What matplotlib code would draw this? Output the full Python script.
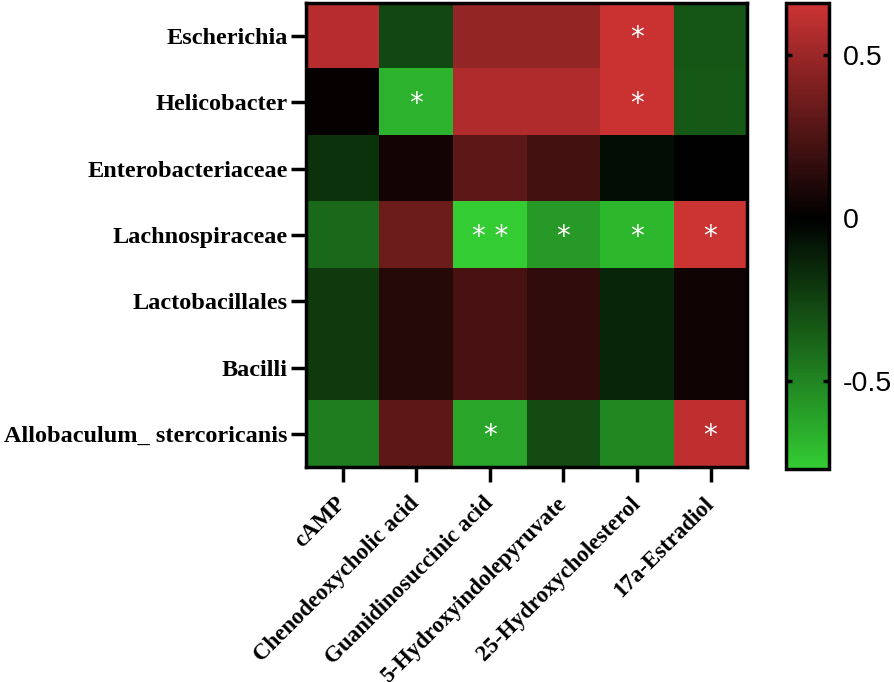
import numpy as np
import matplotlib
matplotlib.use("Agg")
import matplotlib.pyplot as plt
from matplotlib.colors import LinearSegmentedColormap, Normalize

taxa = ['Escherichia', 'Helicobacter', 'Enterobacteriaceae', 'Lachnospiraceae',
        'Lactobacillales', 'Bacilli', 'Allobaculum_ stercoricanis']
metabolites = ['cAMP', 'Chenodeoxycholic acid', 'Guanidinosuccinic acid',
               '5-Hydroxyindolepyruvate', '25-Hydroxycholesterol', '17a-Estradiol']

# correlation coefficients (rows = taxa)
corr = np.array([
    [0.59, -0.27, 0.48, 0.48, 0.65, -0.32],
    [0.02, -0.67, 0.57, 0.57, 0.65, -0.33],
    [-0.19, 0.06, 0.30, 0.22, -0.05, -0.01],
    [-0.40, 0.35, -0.77, -0.58, -0.69, 0.66],
    [-0.22, 0.12, 0.23, 0.16, -0.14, 0.05],
    [-0.22, 0.12, 0.23, 0.16, -0.14, 0.05],
    [-0.47, 0.30, -0.62, -0.28, -0.51, 0.62],
])

stars = [
    ['', '', '', '', '*', ''],
    ['', '*', '', '', '*', ''],
    ['', '', '', '', '', ''],
    ['', '', '* *', '*', '*', '*'],
    ['', '', '', '', '', ''],
    ['', '', '', '', '', ''],
    ['', '', '*', '', '', '*'],
]

vmin, vmax = -0.77, 0.66
mid = -vmin / (vmax - vmin)
cmap = LinearSegmentedColormap.from_list(
    'gkr', [(0.0, '#33cc33'), (mid, '#000000'), (1.0, '#cc3333')])
norm = Normalize(vmin=vmin, vmax=vmax)

fig = plt.figure(figsize=(8.94, 6.82), dpi=100)
ax = fig.add_axes([0.342, 0.315, 0.494, 0.681])
cax = fig.add_axes([0.879, 0.312, 0.048, 0.684])

im = ax.imshow(corr, cmap=cmap, norm=norm, aspect='auto', interpolation='nearest')

for i in range(len(taxa)):
    for j in range(len(metabolites)):
        if stars[i][j]:
            ax.text(j, i + 0.03, stars[i][j], ha='center', va='center',
                    color='white', fontsize=20, family='DejaVu Sans')

ax.set_yticks(range(len(taxa)))
ax.set_yticklabels(taxa, family='Liberation Serif', weight='bold', size=17.5)
ax.set_xticks(range(len(metabolites)))
ax.set_xticklabels(metabolites, family='Liberation Serif', weight='bold', size=16.5,
                   rotation=45, ha='right', va='center', rotation_mode='anchor')
ax.tick_params(axis='both', length=11, width=2.5, pad=2)
ax.tick_params(axis='x', pad=13)
for s in ax.spines.values():
    s.set_linewidth(2.5)

cb = fig.colorbar(im, cax=cax, ticks=[-0.5, 0, 0.5])
cb.ax.set_yticklabels(['-0.5', '0', '0.5'], family='Liberation Sans', fontsize=20.5)
cb.outline.set_linewidth(2.5)
cb.ax.tick_params(axis='y', direction='in', length=4, width=2.5, left=True, right=True, pad=10)

fig.savefig('out.png', dpi=100)
